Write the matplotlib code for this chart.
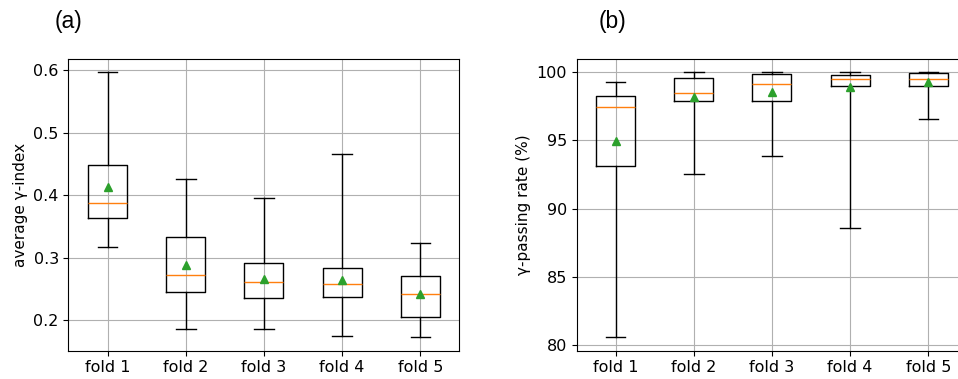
import matplotlib.pyplot as plt
from matplotlib.ticker import MultipleLocator

folds = ['fold 1', 'fold 2', 'fold 3', 'fold 4', 'fold 5']

# (a) average gamma-index box statistics per fold
gi_whislo = [0.317, 0.186, 0.186, 0.175, 0.172]
gi_q1 = [0.363, 0.245, 0.235, 0.236, 0.204]
gi_med = [0.387, 0.272, 0.261, 0.257, 0.242]
gi_q3 = [0.449, 0.333, 0.292, 0.284, 0.270]
gi_whishi = [0.597, 0.426, 0.396, 0.466, 0.323]
gi_mean = [0.413, 0.288, 0.265, 0.264, 0.241]

# (b) gamma passing rate (%) box statistics per fold
pr_whislo = [80.58, 92.54, 93.86, 88.60, 96.60]
pr_q1 = [93.10, 97.90, 97.88, 98.98, 99.00]
pr_med = [97.44, 98.50, 99.15, 99.49, 99.51]
pr_q3 = [98.25, 99.60, 99.83, 99.80, 99.95]
pr_whishi = [99.25, 100.0, 99.98, 100.0, 100.0]
pr_mean = [94.95, 98.20, 98.56, 98.88, 99.27]


def make_stats(lo, q1, med, q3, hi, mean):
    stats = []
    for i in range(len(folds)):
        stats.append({'label': folds[i], 'whislo': lo[i], 'q1': q1[i],
                      'med': med[i], 'q3': q3[i], 'whishi': hi[i],
                      'mean': mean[i], 'fliers': []})
    return stats


fig = plt.figure(figsize=(9.58, 3.79), dpi=100)
ax1 = fig.add_axes([0.0715, 0.0747, 0.408, 0.770])
ax2 = fig.add_axes([0.6018, 0.0747, 0.408, 0.770])

ax1.bxp(make_stats(gi_whislo, gi_q1, gi_med, gi_q3, gi_whishi, gi_mean),
        showmeans=True, widths=0.5)
ax2.bxp(make_stats(pr_whislo, pr_q1, pr_med, pr_q3, pr_whishi, pr_mean),
        showmeans=True, widths=0.5)
ax2.yaxis.set_major_locator(MultipleLocator(5))

ax1.set_ylabel('average γ-index', fontsize=11)
ax2.set_ylabel('γ-passing rate (%)', fontsize=11)

for ax in (ax1, ax2):
    ax.grid(True)
    ax.tick_params(labelsize=11.5)

fig.text(0.072, 0.944, '(a)', fontsize=16.5, family='Liberation Sans',
         ha='center', va='center')
fig.text(0.639, 0.944, '(b)', fontsize=16.5, family='Liberation Sans',
         ha='center', va='center')

plt.savefig('out.png', dpi=100)
